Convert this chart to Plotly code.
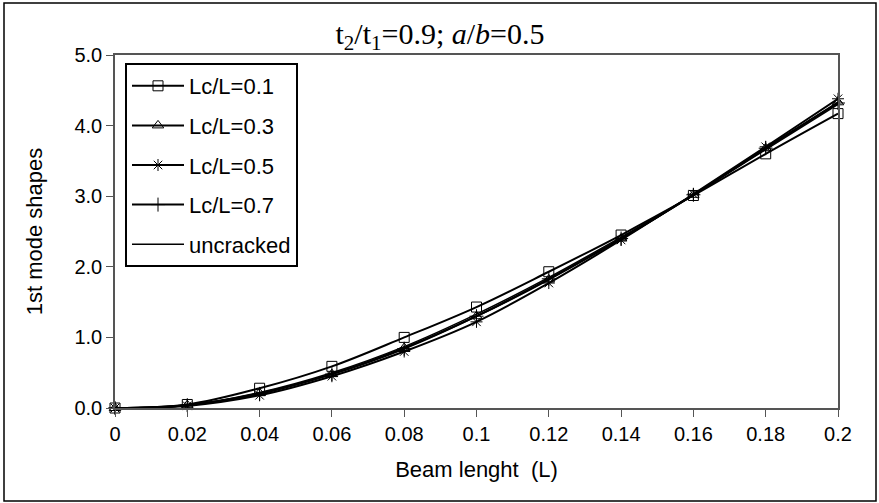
import plotly.graph_objects as go

x_vals = [0, 0.02, 0.04, 0.06, 0.08, 0.1, 0.12, 0.14, 0.16, 0.18, 0.2]
lc01 = [0.0, 0.05, 0.28, 0.59, 1.00, 1.43, 1.93, 2.45, 3.01, 3.60, 4.17]
lc03 = [0.0, 0.04, 0.21, 0.48, 0.85, 1.30, 1.82, 2.40, 3.02, 3.68, 4.33]
lc05 = [0.0, 0.03, 0.18, 0.45, 0.80, 1.22, 1.77, 2.38, 3.03, 3.70, 4.38]
lc07 = [0.0, 0.04, 0.20, 0.48, 0.84, 1.30, 1.83, 2.40, 3.02, 3.68, 4.32]
uncracked = [0.0, 0.04, 0.22, 0.50, 0.87, 1.33, 1.85, 2.42, 3.02, 3.66, 4.30]

names = ["Lc/L=0.1", "Lc/L=0.3", "Lc/L=0.5", "Lc/L=0.7", "uncracked"]
symbols = ["square-open", "triangle-up-open", "asterisk-open", "cross-thin-open", None]
series = [lc01, lc03, lc05, lc07, uncracked]

x_ticks = [0, 0.02, 0.04, 0.06, 0.08, 0.1, 0.12, 0.14, 0.16, 0.18, 0.2]
x_ticktext = ["0", "0.02", "0.04", "0.06", "0.08", "0.1", "0.12", "0.14", "0.16", "0.18", "0.2"]
y_ticks = [0, 1, 2, 3, 4, 5]
y_ticktext = ["0.0", "1.0", "2.0", "3.0", "4.0", "5.0"]

fig = go.Figure()
for i, (nm, sym, ys) in enumerate(zip(names, symbols, series)):
    if sym is None:
        fig.add_trace(go.Scatter(x=x_vals, y=ys, name=nm, mode="lines",
                                 line=dict(color="black", width=1.5, shape="spline"),
                                 legendgroup=f"g{i}", cliponaxis=False))
    else:
        fig.add_trace(go.Scatter(x=x_vals, y=ys, name=nm, mode="lines+markers",
                                 line=dict(color="black", width=2, shape="spline"),
                                 marker=dict(symbol=sym, size=10, color="black",
                                             line=dict(color="black", width=1)),
                                 legendgroup=f"g{i}", cliponaxis=False))

W, H = 879, 503
L, R, T, B = 115, 41, 55, 95
pw, ph = W - L - R, H - T - B

fig.update_layout(
    width=W, height=H,
    margin=dict(l=L, r=R, t=T, b=B),
    paper_bgcolor="white", plot_bgcolor="white",
    font=dict(family="Liberation Sans, Arial", size=20, color="black"),
    title=dict(text="t<sub>2</sub>/t<sub>1</sub>=0.9; <i>a</i>/<i>b</i>=0.5",
               x=440 / W, xanchor="center", y=1 - 33 / H, yanchor="middle",
               font=dict(family="Liberation Serif, Times New Roman", size=30, color="black")),
    xaxis=dict(range=[0, 0.2], tickvals=x_ticks, ticktext=x_ticktext,
               showgrid=False, zeroline=False, showline=True, linecolor="#555",
               linewidth=1.5, mirror=True, ticks="outside", ticklen=7, tickcolor="#555",
               tickfont=dict(size=20),
               title=dict(text="Beam lenght  (L)", standoff=18, font=dict(size=22))),
    yaxis=dict(range=[0, 5], tickvals=y_ticks, ticktext=y_ticktext,
               showgrid=False, zeroline=False, showline=True, linecolor="#555",
               linewidth=1.5, mirror=True, ticks="outside", ticklen=7, tickcolor="#555",
               tickfont=dict(size=20),
               title=dict(text="1st mode shapes", standoff=26, font=dict(size=22))),
    legend=dict(x=(125 - L) / pw, y=1 - (63 - T) / ph, xanchor="left", yanchor="top",
                bordercolor="black", borderwidth=2, bgcolor="white",
                font=dict(size=22), traceorder="grouped", tracegroupgap=8,
                itemwidth=52),
    showlegend=True,
)

# outer chart border
fig.add_shape(type="rect", xref="paper", yref="paper",
              x0=-(L - 4) / pw, x1=1 + (R - 3) / pw,
              y0=-(B - 2) / ph, y1=1 + (T - 3) / ph,
              line=dict(color="black", width=1.5), layer="below")

fig.write_html("out.html", config={"displayModeBar": False},
               post_script="document.body.style.margin='0';")
